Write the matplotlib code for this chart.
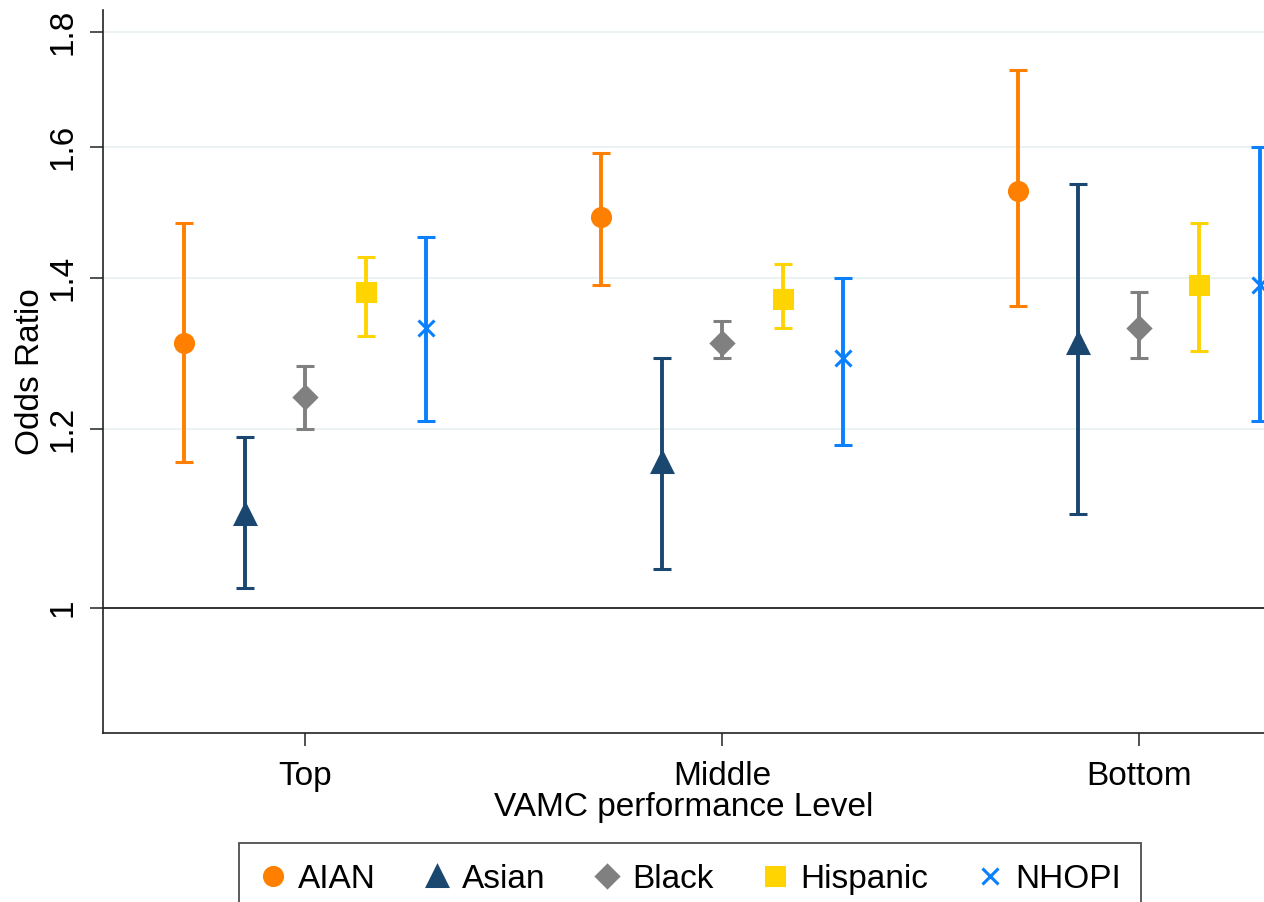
"""
Odds ratios by VAMC performance level, points with 95% CI bars.
"""

import matplotlib
matplotlib.use('Agg')
import matplotlib.pyplot as plt
from matplotlib.lines import Line2D
from matplotlib.ticker import NullLocator, FixedLocator, FixedFormatter
import numpy as np

# ------------ DATA ----------------------------

levels = ['Top', 'Middle', 'Bottom']
groups = ['AIAN', 'Asian', 'Black', 'Hispanic', 'NHOPI']

odds = {
    'AIAN':     [1.31, 1.49, 1.53],
    'Asian':    [1.10, 1.16, 1.31],
    'Black':    [1.24, 1.31, 1.33],
    'Hispanic': [1.38, 1.37, 1.39],
    'NHOPI':    [1.33, 1.29, 1.39],
}
ci_low = {
    'AIAN':     [1.16, 1.39, 1.36],
    'Asian':    [1.02, 1.04, 1.10],
    'Black':    [1.20, 1.29, 1.29],
    'Hispanic': [1.32, 1.33, 1.30],
    'NHOPI':    [1.21, 1.18, 1.21],
}
ci_high = {
    'AIAN':     [1.48, 1.59, 1.73],
    'Asian':    [1.19, 1.29, 1.54],
    'Black':    [1.28, 1.34, 1.38],
    'Hispanic': [1.43, 1.42, 1.48],
    'NHOPI':    [1.46, 1.40, 1.60],
}

y_ticks = [1, 1.2, 1.4, 1.6, 1.8]
y_ticklabels = ['1', '1.2', '1.4', '1.6', '1.8']

# ------------ STYLE ----------------------------

offsets = [-0.29, -0.145, 0.0, 0.145, 0.29]
colors = ['#FF8000', '#1A476F', '#808080', '#FFD400', '#0A80FF']
markers = ['o', '^', 'D', 's', 'x']
msizes = [13, 14, 11, 13, 12]

plt.rcParams['font.family'] = ['Liberation Sans', 'DejaVu Sans']
plt.rcParams['font.size'] = 24

# ------------ PLOT ----------------------------

fig = plt.figure(figsize=(12.64, 9.02), dpi=100)
ax = fig.add_axes([103 / 1264, 169 / 902, 1 - 103 / 1264, (733 - 10) / 902])

ax.set_yscale('log')

for g, off, c, m, ms in zip(groups, offsets, colors, markers, msizes):
    x = np.arange(1, len(levels) + 1) + off
    y = np.array(odds[g])
    err = [y - np.array(ci_low[g]), np.array(ci_high[g]) - y]
    ax.errorbar(x, y, yerr=err, fmt=m, color=c, ms=ms, mew=2.2,
                elinewidth=2.8, capsize=6.5, capthick=2.8, zorder=3)

ax.axhline(1, color='#222222', lw=1.3, zorder=2)

ax.set_ylim(0.88, 1.84)
ax.set_xlim(0.515, 3.30)

ax.yaxis.set_major_locator(FixedLocator(y_ticks))
ax.yaxis.set_major_formatter(FixedFormatter(y_ticklabels))
ax.yaxis.set_minor_locator(NullLocator())
ax.set_xticks(range(1, len(levels) + 1))
ax.set_xticklabels(levels)

for v in y_ticks[1:]:
    ax.axhline(v, color='#EAF2F3', lw=1.4, zorder=1)

ax.tick_params(axis='both', direction='out', length=9.5, width=1.1,
               color='#222222', labelsize=24)
ax.tick_params(axis='x', pad=11)
ax.tick_params(axis='y', pad=8)
for lab in ax.get_yticklabels():
    lab.set_rotation(90)
    lab.set_va('center')

ax.spines['top'].set_visible(False)
ax.spines['right'].set_visible(False)
for s in ('left', 'bottom'):
    ax.spines[s].set_linewidth(1.2)
    ax.spines[s].set_color('#222222')

ax.set_xlabel('VAMC performance Level', fontsize=24, labelpad=0)
ax.set_ylabel('Odds Ratio', fontsize=24, labelpad=1)

handles = [Line2D([], [], ls='none', marker=m, color=c, ms=ms, mew=2.2)
           for m, c, ms in zip(markers, colors, msizes)]
leg = fig.legend(handles, groups, ncol=5, loc='upper center',
                 bbox_to_anchor=(690 / 1264, 1 - 843 / 902),
                 frameon=True, fancybox=False, edgecolor='#222222',
                 fontsize=24, handlelength=0.8, handletextpad=0.35,
                 columnspacing=1.45, borderpad=0.62, borderaxespad=0)
leg.get_frame().set_linewidth(1.3)

fig.savefig('out.png', dpi=100)
